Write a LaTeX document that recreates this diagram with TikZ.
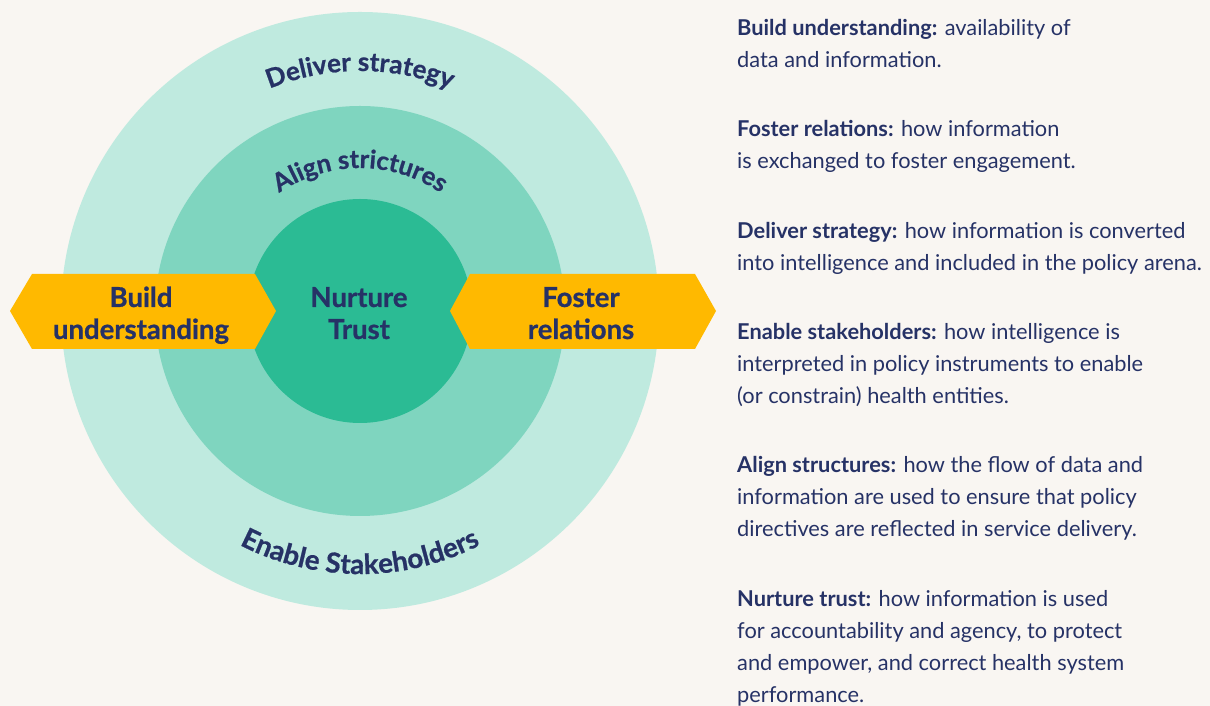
\documentclass[tikz,border=0pt]{standalone}
\usepackage{fontspec}
\setmainfont{Lato}
\newfontfamily\heavyfont{Lato}[BoldFeatures={FakeBold=0.8}]
\usetikzlibrary{decorations.text}
\definecolor{bgc}{HTML}{F9F6F2}
\definecolor{ring1}{HTML}{BFEADF}
\definecolor{ring2}{HTML}{7FD5BF}
\definecolor{ring3}{HTML}{2BBB94}
\definecolor{gold}{HTML}{FFB900}
\definecolor{navy}{HTML}{263266}
\tikzset{
  disc/.style={circle, inner sep=0pt, draw=none},
  biglabel/.style={anchor=base, text=navy, inner sep=0pt, font=\heavyfont\fontsize{27.5}{27.5}\selectfont\bfseries},
  desc/.style={anchor=base west, text=navy, inner sep=0pt, font=\fontsize{21.8}{21.8}\selectfont},
  arrowshape/.style={fill=gold, draw=none},
  arctext/.style={decorate, decoration={text along path, text align=center, text color=navy, text={#1}}}
}
\begin{document}
\begin{tikzpicture}[x=1pt,y=1pt]
\useasboundingbox (0,0) rectangle (1210,706);
\fill[bgc] (0,0) rectangle (1210,706);
\coordinate (C) at (360,395);
\node[disc, fill=ring1, minimum size=598pt] (outer) at (C) {};
\node[disc, fill=ring2, minimum size=410pt] (middle) at (C) {};
\node[disc, fill=ring3, minimum size=224pt] (inner) at (C) {};
% arrows
\fill[arrowshape] (10,395) -- (32,432) -- (255,432) -- (276,395) -- (255,357) -- (32,357) -- cycle;
\fill[arrowshape] (450,395) -- (470,432) -- (695,432) -- (716,395) -- (695,357) -- (470,357) -- cycle;
% labels
\node[biglabel] (bu1) at (141,399) {Build};
\node[biglabel] (bu2) at (141,367) {understanding};
\node[biglabel] (nt1) at (359,399) {Nurture};
\node[biglabel] (nt2) at (359,367) {Trust};
\node[biglabel] (fr1) at (581,399) {Foster};
\node[biglabel] (fr2) at (581,367) {relations};
% curved texts
\path[arctext={|\heavyfont\fontsize{26}{26}\selectfont\bfseries|Deliver strategy}] ([shift={(C)}]150:240) arc[start angle=150, end angle=30, radius=240];
\path[arctext={|\heavyfont\fontsize{25.5}{25.5}\selectfont\bfseries|Align strictures}] ([shift={(C)}]140:143) arc[start angle=140, end angle=40, radius=143];
\path[arctext={|\heavyfont\fontsize{27.7}{27.7}\selectfont\bfseries|Enable Stakeholders}] ([shift={(C)}]210:263) arc[start angle=210, end angle=330, radius=263];
% descriptions
\node[desc] (d1a) at (737,670) {\textbf{Build understanding:} availability of};
\node[desc] (d1b) at (737,638) {data and information.};
\node[desc] (d2a) at (737,569) {\textbf{Foster relations:} how information};
\node[desc] (d2b) at (737,537) {is exchanged to foster engagement.};
\node[desc] (d3a) at (737,467) {\textbf{Deliver strategy:} how information is converted};
\node[desc] (d3b) at (737,435) {into intelligence and included in the policy arena.};
\node[desc] (d4a) at (737,366) {\textbf{Enable stakeholders:} how intelligence is};
\node[desc] (d4b) at (737,334) {interpreted in policy instruments to enable};
\node[desc] (d4c) at (737,302) {(or constrain) health entities.};
\node[desc] (d5a) at (737,233) {\textbf{Align structures:} how the flow of data and};
\node[desc] (d5b) at (737,201) {information are used to ensure that policy};
\node[desc] (d5c) at (737,169) {directives are reflected in service delivery.};
\node[desc] (d6a) at (737,99) {\textbf{Nurture trust:} how information is used};
\node[desc] (d6b) at (737,67) {for accountability and agency, to protect};
\node[desc] (d6c) at (737,35) {and empower, and correct health system};
\node[desc] (d6d) at (737,3) {performance.};
\end{tikzpicture}
\end{document}
